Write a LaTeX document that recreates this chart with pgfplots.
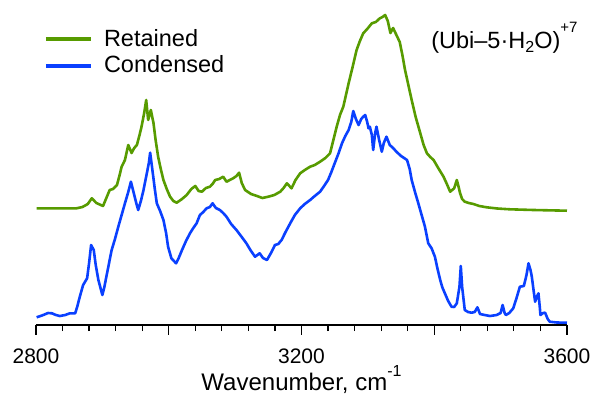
\documentclass[border=0pt]{standalone}
\usepackage{pgfplots}
\pgfplotsset{compat=1.18}
\usepackage{pgfplotstable}
\usepackage{fontspec}
\setmainfont{Liberation Sans}
\definecolor{retgreen}{RGB}{87,155,0}
\definecolor{conblue}{RGB}{10,64,255}

\pgfplotstableread{
w y
2801 116.7
2861 116.7
2870 118
2878 121
2884 126.7
2891 122
2901 119
2906 127
2911 135
2916 136
2922 140
2926 150
2929 158.3
2934 165
2939 180
2944 172
2948 177
2952 180
2956 190
2959 198.3
2963 212
2966 225
2969 205
2973 215
2977 202
2980 186
2984 168.3
2988 156
2992 145
2997 136
3002 128.3
3007 124
3012 122.3
3020 126
3027 130
3034 136
3040 139
3045 134
3050 133.3
3056 137
3062 138.3
3066 141
3070 145
3076 146
3082 148.3
3087 143.3
3092 145
3097 146.7
3102 149
3106 152.3
3110 142
3115 135
3124 131
3133 129
3141 127
3150 128.3
3159 130
3168 133.3
3173 137
3178 141.7
3185 136.7
3191 145
3198 151.7
3205 155
3213 158.3
3220 160
3228 163.3
3236 167
3243 171.7
3248 185
3253 198.3
3258 210
3263 218.3
3267 230
3271 241.7
3277 258
3283 275
3288 284
3293 291.7
3299 296
3306 301.7
3312 303
3318 306.7
3322 308
3326 310
3330 304
3334 292
3338 297
3343 290
3348 283
3352 270
3356 255
3361 240
3366 225
3372 208
3379 191.7
3384 180
3389 171.7
3394 168
3399 165
3406 157
3414 148.3
3419 141
3424 133.3
3430 136.7
3434 145
3436 140
3439 131.7
3442 126
3446 123.3
3452 122
3459 121
3468 119
3479 117.7
3495 116.5
3514 115.7
3550 115
3600 114.3
}\retained

\pgfplotstableread{
w y
2801 7.7
2811 10
2818 12
2824 11.7
2830 10
2836 9
2844 10
2851 11.7
2859 11.7
2862 18
2866 28.3
2871 40
2877 46.7
2880 62
2883 80
2887 75
2890 60
2894 45
2900 30
2903 38
2907 51.7
2914 75
2919 86
2924 98.3
2929 110
2934 121.7
2939 133
2943 143.3
2948 130
2951 122
2954 115
2958 124
2962 135
2967 151.7
2970 162
2972 172.3
2974 162
2976 151.7
2979 136
2982 121.7
2987 114
2992 105
2996 92
2999 78.3
3004 66.7
3011 61.7
3015 67
3020 75
3026 84
3032 91.7
3037 97
3042 101.7
3047 110
3052 113
3057 116.7
3062 118
3066 121.7
3071 117
3077 115
3082 112
3087 108.3
3094 101
3102 95
3110 88
3117 81.7
3123 75
3130 68.3
3137 71.7
3142 67
3148 65
3154 72
3160 80
3165 81
3170 85
3176 93
3183 101.7
3190 110
3198 116.7
3205 121
3213 125
3220 129
3228 133.3
3234 139
3240 145
3245 153
3250 161.7
3256 172
3261 181.7
3266 189
3271 195
3275 203
3278 214
3282 206
3286 200
3290 206
3293 208.3
3296 210
3299 203
3301 196.7
3303 198.3
3306 190
3308 175
3311 192
3313 198.3
3317 185
3321 173.3
3324 182
3328 188.3
3333 180
3338 177
3343 173.3
3350 169
3359 165
3363 156
3366 145
3371 133
3376 121.7
3381 110
3386 98.3
3391 81.7
3396 76.7
3401 68.3
3405 56
3409 45
3412 38
3416 31.7
3421 24
3426 18.3
3430 18
3434 21.7
3438 38.3
3440 59
3442 38.3
3446 15
3451 13
3456 12.3
3461 13
3465 17.7
3469 11
3476 10
3484 9
3494 10
3500 12
3503 20
3506 12
3508 10
3513 12
3519 16.7
3524 27
3529 38.3
3535 39
3539 50
3542 61.7
3545 55
3547 48.3
3550 33
3552 23.3
3555 29
3557 31.7
3559 18
3560 10
3564 12
3567 12.3
3571 6
3574 3.3
3585 2.5
3600 2.3
}\condensed

\begin{document}
\begin{tikzpicture}
\begin{axis}[
  scale only axis, width=265.5pt, height=162.5pt,
  xmin=2800, xmax=3600, ymin=0, ymax=325,
  clip=false,
  axis x line*=bottom, axis y line=none, ytick=\empty,
  xtick={2800,3000,3200,3400,3600},
  xticklabels={2800,,3200,,3600},
  minor x tick num=4,
  tick align=outside,
  major tick length=4.8pt, minor tick length=3pt,
  x axis line style={line width=0.6pt},
  every tick/.style={black, line width=0.6pt},
  xticklabel style={font=\fontsize{10.5}{12}\selectfont, anchor=base, inner sep=0pt, yshift=-14.5pt},
  xlabel={Wavenumber, cm\raisebox{0.55em}{\fontsize{8}{9}\selectfont -1}},
  xlabel style={at={(axis description cs:0.5,0)}, anchor=base, inner sep=0pt, yshift=-32.5pt, font=\fontsize{12}{14}\selectfont},
  legend style={draw=none, fill=none, inner sep=0pt, outer sep=0pt, row sep=3.4pt, column sep=5.5pt,
    font=\fontsize{11.75}{14}\selectfont, at={(axis cs:2811.5,296)}, anchor=north west,
    nodes={inner sep=0pt}, cells={anchor=west}},
  legend image code/.code={\draw[line width=2.2pt] (0pt,0pt) -- (22.5pt,0pt);},
]
\addplot[retgreen, line width=1.3pt, line join=round] table[x=w,y=y] {\retained};
\addplot[conblue, line width=1.3pt, line join=round] table[x=w,y=y] {\condensed};
\legend{Retained,Condensed}
\node[anchor=base west, inner sep=0pt, font=\fontsize{11.75}{14}\selectfont] at (axis cs:3395,277)
  {(Ubi–5·H\raisebox{-0.2em}{\fontsize{8}{9}\selectfont 2}O)\raisebox{0.65em}{\fontsize{7.5}{9}\selectfont +7}};
\end{axis}
\path (-18pt,-36.5pt) rectangle (278pt,162.5pt);
\end{tikzpicture}
\end{document}
